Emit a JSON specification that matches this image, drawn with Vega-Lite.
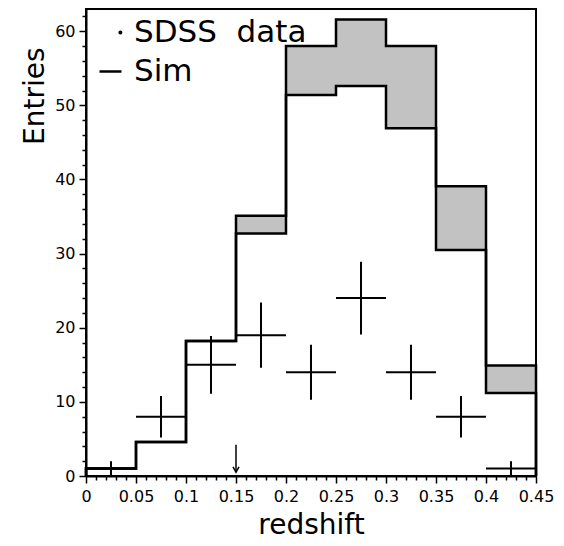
{
  "$schema": "https://vega.github.io/schema/vega-lite/v6.json",
  "width": 450,
  "height": 467,
  "autosize": {"type": "none"},
  "padding": {"left": 86, "top": 9, "right": 28, "bottom": 70},
  "background": "white",
  "config": {
    "view": {"stroke": "black", "strokeWidth": 2},
    "axis": {
      "grid": false,
      "domainColor": "black",
      "domainWidth": 2,
      "tickColor": "black",
      "tickWidth": 1.5,
      "labelColor": "black",
      "titleColor": "black",
      "labelFont": "DejaVu Sans",
      "titleFont": "DejaVu Sans",
      "labelFontSize": 16,
      "titleFontSize": 28,
      "titleFontWeight": "normal",
      "labelOverlap": false,
      "labelFlush": false,
      "labelBound": false
    }
  },
  "datasets": {
    "steps": [
      {"i": 0, "z": 0, "lo": 0, "hi": 0},
      {"i": 1, "z": 0, "lo": 1, "hi": 1},
      {"i": 2, "z": 0.05, "lo": 4.6, "hi": 4.6},
      {"i": 3, "z": 0.1, "lo": 18.2, "hi": 18.2},
      {"i": 4, "z": 0.15, "lo": 32.7, "hi": 35.1},
      {"i": 5, "z": 0.2, "lo": 51.4, "hi": 58},
      {"i": 6, "z": 0.25, "lo": 52.6, "hi": 61.6},
      {"i": 7, "z": 0.3, "lo": 46.9, "hi": 58},
      {"i": 8, "z": 0.35, "lo": 30.5, "hi": 39.1},
      {"i": 9, "z": 0.4, "lo": 11.2, "hi": 14.9},
      {"i": 10, "z": 0.45, "lo": 11.2, "hi": 14.9},
      {"i": 11, "z": 0.45, "lo": 0, "hi": 0}
    ],
    "pts": [
      {"z": 0.025, "zlo": 0, "zhi": 0.05, "n": 1, "nlo": 0, "nhi": 2},
      {"z": 0.075, "zlo": 0.05, "zhi": 0.1, "n": 8, "nlo": 5.2, "nhi": 10.8},
      {"z": 0.125, "zlo": 0.1, "zhi": 0.15, "n": 15, "nlo": 11.1, "nhi": 18.9},
      {"z": 0.175, "zlo": 0.15, "zhi": 0.2, "n": 19, "nlo": 14.6, "nhi": 23.4},
      {"z": 0.225, "zlo": 0.2, "zhi": 0.25, "n": 14, "nlo": 10.3, "nhi": 17.7},
      {"z": 0.275, "zlo": 0.25, "zhi": 0.3, "n": 24, "nlo": 19.1, "nhi": 28.9},
      {"z": 0.325, "zlo": 0.3, "zhi": 0.35, "n": 14, "nlo": 10.3, "nhi": 17.7},
      {"z": 0.375, "zlo": 0.35, "zhi": 0.4, "n": 8, "nlo": 5.2, "nhi": 10.8},
      {"z": 0.425, "zlo": 0.4, "zhi": 0.45, "n": 1, "nlo": 0, "nhi": 2}
    ],
    "arrow": [
      {"z": 0.15, "top": 4.2, "tip": 0.5}
    ]
  },
  "layer": [
    {
      "data": {"name": "steps"},
      "transform": [{"filter": "datum.i >= 4 && datum.i <= 10"}],
      "mark": {"type": "area", "interpolate": "step-after", "fill": "#c2c2c2", "opacity": 1},
      "encoding": {
        "x": {
          "field": "z",
          "type": "quantitative",
          "scale": {"domain": [0, 0.45], "nice": false, "zero": false},
          "axis": {
            "title": "redshift",
            "tickCount": 200,
            "values": [0, 0.01, 0.02, 0.03, 0.04, 0.05, 0.06, 0.07, 0.08, 0.09, 0.1, 0.11, 0.12, 0.13, 0.14, 0.15, 0.16, 0.17, 0.18, 0.19, 0.2, 0.21, 0.22, 0.23, 0.24, 0.25, 0.26, 0.27, 0.28, 0.29, 0.3, 0.31, 0.32, 0.33, 0.34, 0.35, 0.36, 0.37, 0.38, 0.39, 0.4, 0.41, 0.42, 0.43, 0.44, 0.45],
            "labelExpr": "round(datum.value * 100) % 5 === 0 ? '' + round(datum.value * 100) / 100 : ''",
            "tickSize": {"condition": {"test": "round(datum.value * 100) % 5 === 0", "value": 7}, "value": 4},
            "labelOverlap": false,
            "labelPadding": 5,
            "titleY": 57,
            "titleBaseline": "alphabetic"
          }
        },
        "y": {
          "field": "lo",
          "type": "quantitative",
          "scale": {"domain": [0, 63], "nice": false},
          "axis": {
            "title": "Entries",
            "tickCount": 200,
            "values": [0, 2, 4, 6, 8, 10, 12, 14, 16, 18, 20, 22, 24, 26, 28, 30, 32, 34, 36, 38, 40, 42, 44, 46, 48, 50, 52, 54, 56, 58, 60, 62],
            "labelExpr": "round(datum.value) % 10 === 0 ? '' + round(datum.value) : ''",
            "tickSize": {"condition": {"test": "round(datum.value) % 10 === 0", "value": 7}, "value": 4},
            "labelOverlap": false,
            "labelPadding": 4,
            "titleAngle": -90,
            "titleX": -43,
            "titleY": 38,
            "titleAlign": "right",
            "titleBaseline": "alphabetic"
          }
        },
        "y2": {"field": "hi"}
      }
    },
    {
      "data": {"name": "steps"},
      "mark": {"type": "line", "interpolate": "step-after", "strokeWidth": 2.5},
      "encoding": {
        "x": {"field": "z", "type": "quantitative"},
        "y": {"field": "lo", "type": "quantitative"},
        "order": {"field": "i", "type": "quantitative"},
        "color": {
          "datum": "Sim",
          "type": "nominal",
          "scale": {"domain": ["SDSS\u00a0\u00a0data", "Sim"], "range": ["black", "black"]},
          "legend": {
            "orient": "none",
            "legendX": 9,
            "legendY": 8,
            "title": null,
            "labelFont": "DejaVu Sans",
            "labelFontSize": 31,
            "labelColor": "black",
            "labelOffset": 8,
            "labelLimit": 400,
            "rowPadding": 7,
            "padding": 0,
            "symbolSize": 484,
            "symbolStrokeWidth": 2.5,
            "symbolType": "stroke",
            "encode": {
              "symbols": {
                "update": {
                  "shape": {"signal": "datum.value === 'Sim' ? 'stroke' : 'M0.72,0A0.18,0.18 0 1,1 1.08,0A0.18,0.18 0 1,1 0.72,0Z'"},
                  "fill": {"value": "black"},
                  "stroke": {"value": "black"},
                  "strokeWidth": {"signal": "datum.value === 'Sim' ? 2.5 : 0"},
                  "opacity": {"value": 1}
                }
              }
            }
          }
        }
      }
    },
    {
      "data": {"name": "steps"},
      "mark": {"type": "line", "interpolate": "step-after", "strokeWidth": 2.5},
      "encoding": {
        "x": {"field": "z", "type": "quantitative"},
        "y": {"field": "hi", "type": "quantitative"},
        "order": {"field": "i", "type": "quantitative"},
        "color": {"datum": "Sim", "type": "nominal"}
      }
    },
    {
      "data": {"name": "pts"},
      "mark": {"type": "rule", "strokeWidth": 2},
      "encoding": {
        "x": {"field": "zlo", "type": "quantitative"},
        "x2": {"field": "zhi"},
        "y": {"field": "n", "type": "quantitative"},
        "color": {"datum": "SDSS\u00a0\u00a0data", "type": "nominal"}
      }
    },
    {
      "data": {"name": "pts"},
      "mark": {"type": "rule", "strokeWidth": 2},
      "encoding": {
        "x": {"field": "z", "type": "quantitative"},
        "y": {"field": "nlo", "type": "quantitative"},
        "y2": {"field": "nhi"},
        "color": {"datum": "SDSS\u00a0\u00a0data", "type": "nominal"}
      }
    },
    {
      "data": {"name": "arrow"},
      "mark": {"type": "rule", "strokeWidth": 1.5, "color": "black"},
      "encoding": {
        "x": {"field": "z", "type": "quantitative"},
        "y": {"field": "top", "type": "quantitative"},
        "y2": {"field": "tip"}
      }
    },
    {
      "data": {"name": "arrow"},
      "mark": {"type": "point", "shape": "M-1,-1.8L0,0L1,-1.8", "size": 36, "filled": false, "stroke": "black", "strokeWidth": 1.5, "opacity": 1},
      "encoding": {
        "x": {"field": "z", "type": "quantitative"},
        "y": {"field": "tip", "type": "quantitative"}
      }
    }
  ]
}
